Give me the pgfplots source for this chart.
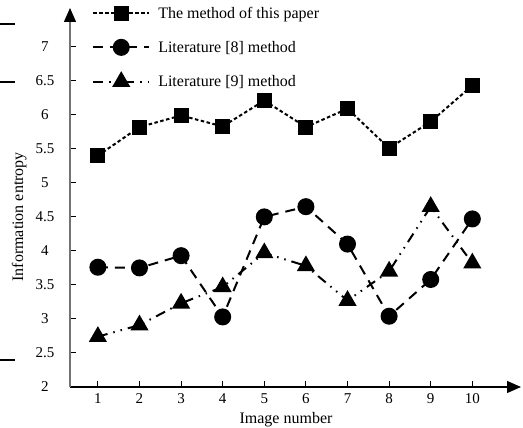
\documentclass[border=0pt]{standalone}
\usepackage{fontspec}
\setmainfont{Liberation Serif}
\usepackage{pgfplots}
\pgfplotsset{compat=1.18}
\usetikzlibrary{arrows.meta}
\begin{document}
\begin{tikzpicture}
\useasboundingbox (0,0) rectangle (523pt,428pt);
% stray strokes at left edge of the original figure
\draw[line width=2pt] (0,404pt) -- (15pt,404pt);
\draw[line width=2pt] (0,346pt) -- (15pt,346pt);
\draw[line width=2pt] (0,68pt) -- (15pt,68pt);
\begin{axis}[
  at={(70pt,41pt)}, anchor=south west,
  scale only axis, width=451pt, height=379pt,
  xmin=0.33, xmax=11.17, ymin=2, ymax=7.57,
  axis lines=left,
  x axis line style={line width=1.2pt, -{Triangle[length=14pt,width=12pt]}},
  y axis line style={line width=1.2pt, draw=black!55, -{Triangle[length=14pt,width=12pt,color=black]}},
  xtick={1,2,3,4,5,6,7,8,9,10},
  ytick={2,2.5,3,3.5,4,4.5,5,5.5,6,6.5,7},
  yticklabels={2,2.5,3,3.5,4,4.5,5,5.5,6,6.5,7},
  tick align=inside,
  major tick length=6pt,
  tick style={line width=1pt, black},
  /pgf/number format/assume math mode=true,
  tick label style={font=\fontsize{15}{18}\selectfont},
  yticklabel style={anchor=center, xshift=-25pt},
  xticklabel style={yshift=-3pt},
  xlabel={Image number},
  ylabel={Information entropy},
  label style={font=\fontsize{16}{19}\selectfont},
  x label style={at={(axis description cs:0.479,0)}, anchor=north, yshift=-22pt},
  y label style={at={(axis description cs:0,0.449)}, anchor=south, rotate=0, yshift=40pt},
  clip=false,
  legend cell align=left,
  legend image code/.code={\draw[mark repeat=2,mark phase=2] plot coordinates {(0pt,0pt)(28pt,0pt)(56pt,0pt)};},
  legend style={draw=none, fill=none, at={(axis cs:0.86,7.62)}, anchor=north west,
    font=\fontsize{16}{19}\selectfont, inner sep=0pt, row sep=17.5pt, column sep=6pt},
]
\addplot[black, line width=2pt, dash pattern=on 3.5pt off 2.5pt,
  mark=square*, mark size=6.5pt, mark options={solid}]
  coordinates {(1,5.40)(2,5.82)(3,5.99)(4,5.83)(5,6.21)(6,5.82)(7,6.09)(8,5.51)(9,5.90)(10,6.43)};
\addlegendentry{The method of this paper}
\addplot[black, line width=2pt, dash pattern=on 10pt off 7pt,
  mark=*, mark size=7.5pt, mark options={solid}]
  coordinates {(1,3.76)(2,3.75)(3,3.93)(4,3.03)(5,4.50)(6,4.65)(7,4.10)(8,3.04)(9,3.58)(10,4.47)};
\addlegendentry{Literature [8] method}
\addplot[black, line width=2pt, dash pattern=on 10pt off 6pt on 1.5pt off 6pt on 1.5pt off 6pt,
  mark=triangle*, mark size=8.5pt, mark options={solid}]
  coordinates {(1,2.74)(2,2.91)(3,3.23)(4,3.47)(5,3.97)(6,3.78)(7,3.27)(8,3.70)(9,4.65)(10,3.82)};
\addlegendentry{Literature [9] method}
\end{axis}
\end{tikzpicture}
\end{document}
